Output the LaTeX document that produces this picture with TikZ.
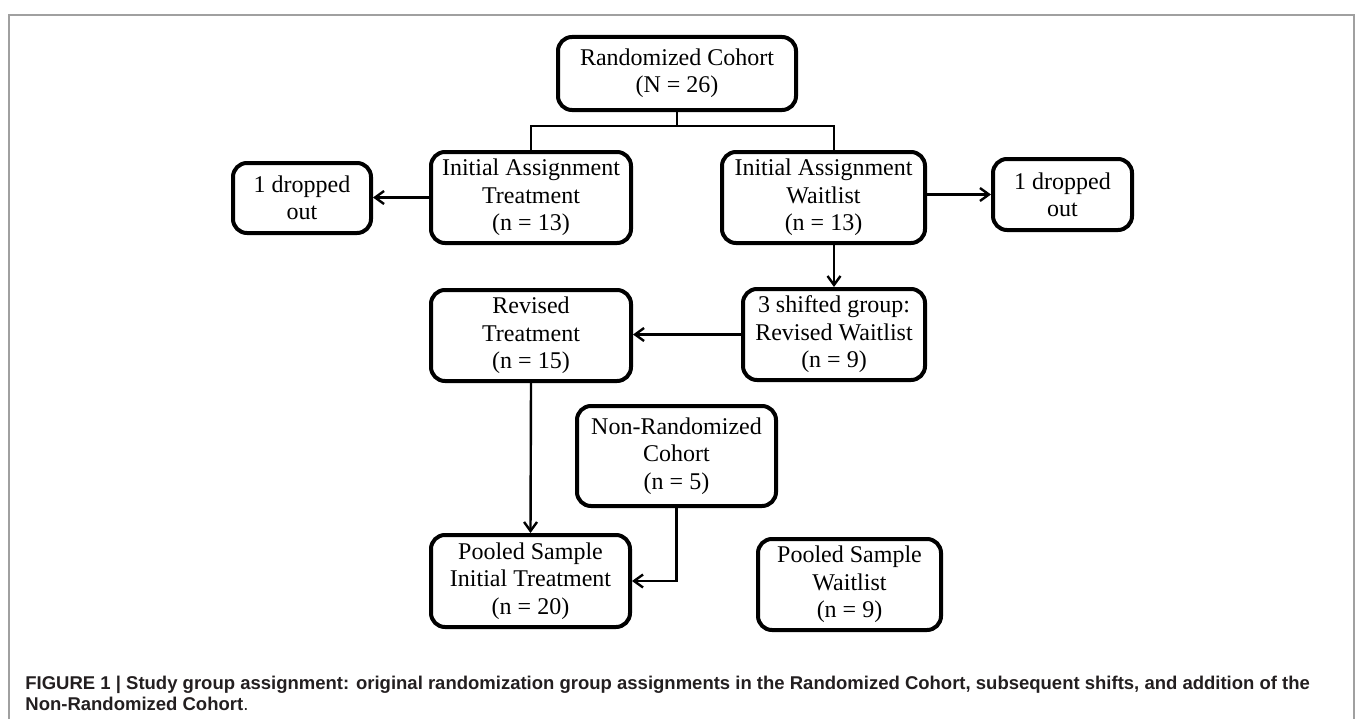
\documentclass[tikz,border=0pt]{standalone}
\usepackage{fontspec}
\setmainfont{Liberation Serif}
\newfontfamily\capfont{Liberation Sans}
\usetikzlibrary{arrows.meta}
\definecolor{framegray}{RGB}{160,160,160}
\definecolor{capgray}{RGB}{35,31,32}

\begin{document}
\begin{tikzpicture}[x=0.5bp, y=-0.5bp,
  every node/.style={align=center},
  box/.style={draw, line width=2bp, rounded corners=7bp, inner sep=1bp,
    minimum width=100bp, minimum height=45.5bp,
    font=\fontsize{12bp}{13.7bp}\selectfont,
    execute at begin node={\rule{0pt}{10bp}}},
  link/.style={line width=1.2bp},
  arr/.style={link, -{Straight Barb[length=4.5bp,width=6.5bp]}},
  capline/.style={anchor=base west, inner sep=0pt, text=capgray,
    font=\capfont\bfseries\fontsize{9.25bp}{11bp}\selectfont}]
  \useasboundingbox (0,0) rectangle (1357,719);
  % thin frame round the figure, open at the bottom
  \draw[framegray, line width=0.8bp] (9,719) -- (9,15) -- (1354,15) -- (1354,719);

  \node[box, minimum width=119bp, minimum height=36.5bp] (rc) at (677,73.5) {Randomized Cohort\\(N = 26)};
  \node[box] (iat) at (531,197.5) {Initial Assignment\\Treatment\\(n = 13)};
  \node[box, minimum width=101.5bp] (iaw) at (823.5,197.5) {Initial Assignment\\Waitlist\\(n = 13)};
  \node[box, minimum width=69bp, minimum height=35bp] (dl) at (302,198) {1 dropped\\out};
  \node[box, minimum width=69.5bp, minimum height=35.5bp] (dr) at (1062.5,194.5) {1 dropped\\out};
  \node[box] (rt) at (531,335.5) {Revised\\Treatment\\(n = 15)};
  \node[box, minimum width=91bp] (sw) at (834,334.5) {3 shifted group:\\Revised Waitlist\\(n = 9)};
  \node[box, minimum width=99.5bp, minimum height=50bp] (nr) at (676.5,456) {Non-Randomized\\Cohort\\(n = 5)};
  \node[box, minimum width=99.5bp, minimum height=46bp] (pi) at (530.5,581) {Pooled Sample\\Initial Treatment\\(n = 20)};
  \node[box, minimum width=91.5bp] (pw) at (849.5,584.5) {Pooled Sample\\Waitlist\\(n = 9)};

  % split of the randomized cohort
  \coordinate (split) at (677,126);
  \draw[link] (rc.south) -- (split);
  \draw[link] (iat.north) |- (split) -| (iaw.north -| sw.north);

  \draw[arr] (iat.west) -- (iat.west -| dl.east);
  \draw[arr] (dr.west -| iaw.east) -- (dr.west);
  \draw[arr] (iaw.south -| sw.north) -- (sw.north);
  \draw[arr] (sw.west) -- (sw.west -| rt.east);
  \draw[arr] (rt.south) -- (pi.north);
  \draw[arr] (nr.south) |- (pi.east);

  \node[capline] (capA) at (25,689) {FIGURE 1 | Study group assignment: original randomization group assignments in the Randomized Cohort, subsequent shifts, and addition of the};
  \node[capline] (capB) at (25,710) {Non-Randomized Cohort{\mdseries .}};
\end{tikzpicture}
\end{document}
